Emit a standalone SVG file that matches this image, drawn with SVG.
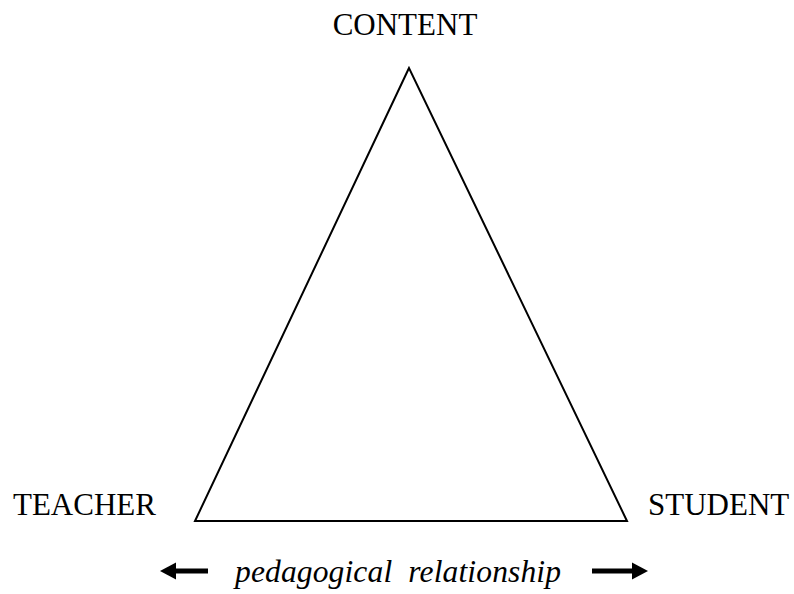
<svg xmlns="http://www.w3.org/2000/svg" width="794" height="594" viewBox="0 0 794 594">
  <style>
    .label { font-family: "Liberation Serif", "Times New Roman", serif; font-size: 31px; fill: #000; }
    .caption { font-style: italic; font-size: 31.5px; white-space: pre; }
    .edge { fill: none; stroke: #000; stroke-width: 2; stroke-linejoin: miter; }
    .shaft { stroke: #000; stroke-width: 5; fill: none; }
    .head { fill: #000; stroke: none; }
  </style>
  <defs>
    <!-- solid arrowhead pointing right, tip at origin -->
    <path id="head" class="head" d="M0,0 L-16,-8.5 L-16,8.5 Z"/>
  </defs>
  <rect width="794" height="594" fill="#fff"/>

  <!-- triangle edges and the two relationship arrows -->
  <g id="connectors">
    <polygon class="edge" points="409,68 195,521 627,521"/>
    <line class="shaft" x1="208" y1="571" x2="174" y2="571"/>
    <use href="#head" transform="translate(160,571) rotate(180)"/>
    <line class="shaft" x1="592" y1="571" x2="634" y2="571"/>
    <use href="#head" transform="translate(648,571)"/>
  </g>

  <g id="content">
    <text class="label" x="405" y="35" text-anchor="middle">CONTENT</text>
  </g>
  <g id="teacher">
    <text class="label" x="13" y="515">TEACHER</text>
  </g>
  <g id="student">
    <text class="label" x="648" y="515">STUDENT</text>
  </g>
  <g id="relationship">
    <text class="label caption" x="235" y="582" textLength="326" lengthAdjust="spacing">pedagogical  relationship</text>
  </g>
</svg>
